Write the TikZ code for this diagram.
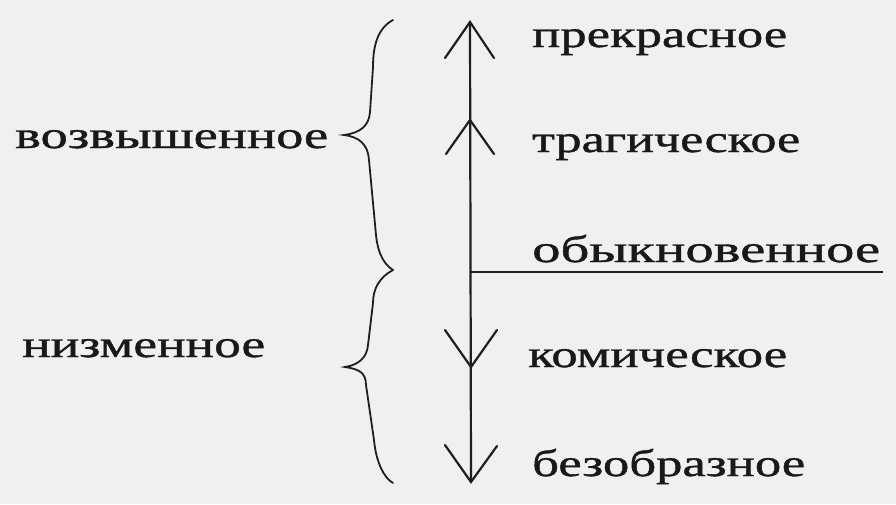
\documentclass[tikz,border=0pt]{standalone}
\usepackage{fontspec}
\setmainfont{Liberation Serif}
\newfontfamily\lblfont[FakeBold=0.9]{Liberation Serif}
\usepackage{graphicx}
\begin{document}
\begin{tikzpicture}[x=1pt,y=-1pt,
  lbl/.style={anchor=base west,inner sep=0pt,font=\lblfont\fontsize{38}{40}\selectfont,text=black!90},
  axisline/.style={line width=2.2pt,black!88},
  tipline/.style={line width=2.2pt,black!88,line cap=round},
  bracepath/.style={line width=1.8pt,black!88,line cap=round}]
\fill[black!6] (0,0) rectangle (896,504);
\useasboundingbox (0,0) rectangle (896,504);

% axis coordinates
\coordinate (top) at (470,22);
\coordinate (bot) at (471,482);
\coordinate (mid) at (470,272);
\coordinate (midend) at (883,272);
\coordinate (a2) at (470,120);
\coordinate (a3) at (471,367);

% vertical axis and horizontal rule
\draw[axisline] (top) -- (bot);
\draw[axisline] (mid) -- (midend);

% arrow heads (open)
\draw[tipline] (445,58) -- (top) -- (494,58);
\draw[tipline] (446,154) -- (a2) -- (494,154);
\draw[tipline] (445,330) -- (a3) -- (497,330);
\draw[tipline] (445,445) -- (bot) -- (497,446);

% braces
\coordinate (b1top) at (393,20);
\coordinate (b1tip) at (344,135);
\coordinate (b1bot) at (393,270);
\coordinate (b2tip) at (345,367);
\coordinate (b2bot) at (393,483);
\draw[bracepath] (b1top) .. controls (378,28) and (373,45) .. (373,67)
  -- (370,112) .. controls (369,126) and (360,133) .. (b1tip)
  .. controls (360,137) and (368,145) .. (369,160)
  -- (376,235) .. controls (378,255) and (385,265) .. (b1bot);
\draw[bracepath] (b1bot) .. controls (380,277) and (373,288) .. (373,303)
  -- (368,345) .. controls (367,358) and (358,365) .. (b2tip)
  .. controls (358,369) and (366,372) .. (366,385)
  -- (374,440) .. controls (376,462) and (384,478) .. (b2bot);

% labels right
\node[lbl] (p1) at (532,47) {\resizebox{255pt}{\height}{прекрасное}};
\node[lbl] (p2) at (532,152) {\resizebox{268pt}{\height}{трагическое}};
\node[lbl] (p3) at (532,262) {\resizebox{348pt}{\height}{обыкновенное}};
\node[lbl] (p4) at (528,367) {\resizebox{259pt}{\height}{комическое}};
\node[lbl] (p5) at (532,476) {\resizebox{273pt}{\height}{безобразное}};

% labels left
\node[lbl] (l1) at (15,148) {\resizebox{313pt}{\height}{возвышенное}};
\node[lbl] (l2) at (22,357) {\resizebox{243pt}{\height}{низменное}};
\end{tikzpicture}
\end{document}
